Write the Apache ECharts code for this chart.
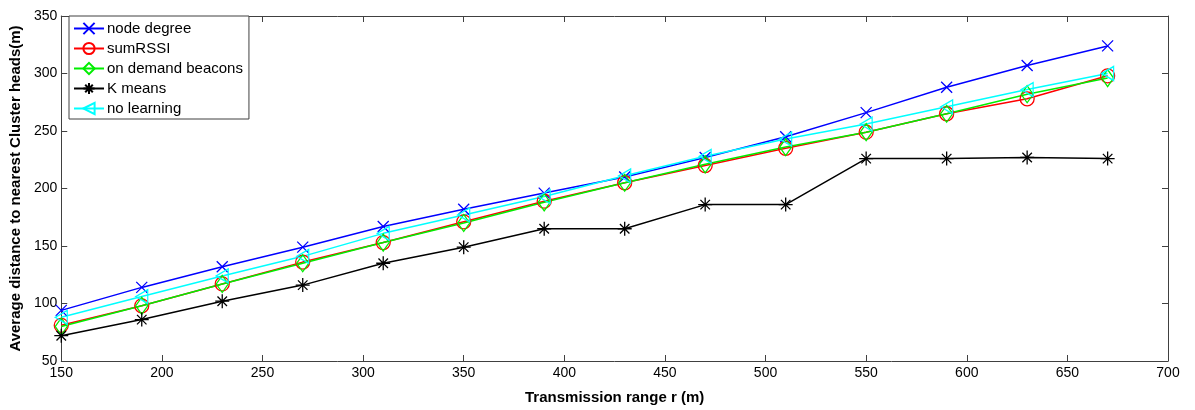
<!DOCTYPE html>
<html>
<head>
<meta charset="utf-8">
<script src="https://cdn.jsdelivr.net/npm/echarts@6/dist/echarts.min.js"></script>
<style>
  html, body { margin: 0; padding: 0; background: #fff; }
  #chart { width: 1195px; height: 410px; }
</style>
</head>
<body>
<div id="chart"></div>
<script>
// Transmission range (m)
const ranges = [150, 190, 230, 270, 310, 350, 390, 430, 470, 510, 550, 590, 630, 670];

// Average distance to nearest cluster head (m), one list per method
const nodeDegree = [94, 114, 132, 149, 167, 182, 196, 210, 227, 245, 266, 288, 307, 324];
const sumRSSI    = [81, 98, 117, 136, 153, 171, 189, 205, 220, 235, 249, 265, 278, 298];
const onDemand   = [80, 98, 117, 135, 153, 170, 188, 205, 221, 236, 249, 265, 282, 296];
const kMeans     = [72, 86, 102, 116, 135, 149, 165, 165, 186, 186, 226, 226, 227, 226];
const noLearning = [88, 106, 124, 141, 161, 177, 193, 211, 228, 243, 256, 271, 286, 300];

const seriesNames = ['node degree', 'sumRSSI', 'on demand beacons', 'K means', 'no learning'];

const FONT = '"Liberation Sans", Arial, sans-serif';

const SYM_X = 'path://M0,0L10,10M10,0L0,10';
const SYM_STAR = 'path://M5,0L5,10M0,5L10,5M1.6,1.6L8.4,8.4M8.4,1.6L1.6,8.4';
const SYM_TRI_LEFT = 'path://M0,5L10,0L10,10Z';

function pairs(vals) {
  return ranges.map((r, i) => [r, vals[i]]);
}

function lineSeries(name, vals, color, symbol, size, width) {
  return {
    name: name,
    type: 'line',
    data: pairs(vals),
    symbol: symbol,
    symbolSize: size,
    showSymbol: true,
    animation: false,
    lineStyle: { color: color, width: width },
    itemStyle: { color: 'transparent', borderColor: color, borderWidth: 1.3 },
    emphasis: { disabled: true }
  };
}

const axisCommon = {
  axisLine: { show: true, lineStyle: { color: '#404040', width: 1 } },
  axisTick: { show: true, inside: true, length: 6, lineStyle: { color: '#404040' } },
  splitLine: { show: false }
};

const chart = echarts.init(document.getElementById('chart'), null, { renderer: 'canvas' });

chart.setOption({
  backgroundColor: '#ffffff',
  animation: false,
  textStyle: { fontFamily: FONT },
  grid: { left: 58, right: 27, top: 16, bottom: 43, containLabel: false },
  legend: {
    data: seriesNames,
    orient: 'vertical',
    left: 69,
    top: 16,
    padding: [5, 6, 3, 4],
    itemWidth: 30,
    itemHeight: 14,
    itemGap: 5,
    backgroundColor: '#ffffff',
    borderColor: '#404040',
    borderWidth: 1,
    textStyle: { fontFamily: FONT, fontSize: 15, color: '#000', padding: [0, 0, 0, -2] }
  },
  xAxis: [
    Object.assign({
      type: 'value', min: 150, max: 700, interval: 50,
      name: 'Transmission range r (m)',
      nameLocation: 'middle', nameGap: 29,
      nameTextStyle: { fontFamily: FONT, fontSize: 15, fontWeight: 'bold', color: '#000' },
      axisLabel: { fontFamily: FONT, fontSize: 14, color: '#000', margin: 5 }
    }, axisCommon),
    Object.assign({
      type: 'value', min: 150, max: 700, interval: 50, position: 'top',
      axisLabel: { show: false }
    }, axisCommon)
  ],
  yAxis: [
    Object.assign({
      type: 'value', min: 50, max: 350, interval: 50,
      name: 'Average distance to nearest Cluster heads(m)',
      nameLocation: 'middle', nameGap: 22,
      nameTextStyle: { fontFamily: FONT, fontSize: 15, fontWeight: 'bold', color: '#000' },
      axisLabel: { fontFamily: FONT, fontSize: 14, color: '#000', margin: 4 }
    }, axisCommon),
    Object.assign({
      type: 'value', min: 50, max: 350, interval: 50, position: 'right',
      axisLabel: { show: false }
    }, axisCommon)
  ],
  series: [
    lineSeries(seriesNames[0], nodeDegree, '#0000ff', SYM_X, 11, 1.5),
    lineSeries(seriesNames[1], sumRSSI, '#ff0000', 'circle', 14, 1.5),
    lineSeries(seriesNames[2], onDemand, '#00ee00', 'diamond', [12, 17], 1.5),
    lineSeries(seriesNames[3], kMeans, '#000000', SYM_STAR, 14, 1.5),
    lineSeries(seriesNames[4], noLearning, '#00ffff', SYM_TRI_LEFT, [12, 14], 1.5)
  ]
});
</script>
</body>
</html>
